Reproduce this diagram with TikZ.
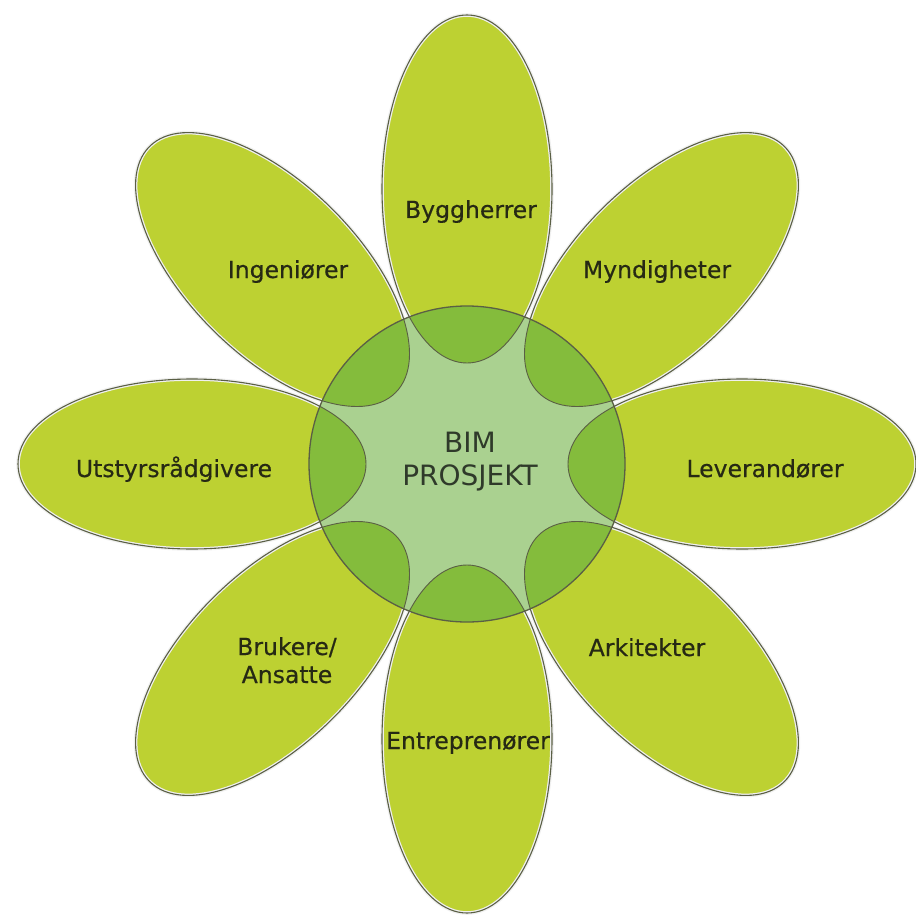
\documentclass[tikz,border=0pt]{standalone}
\usepackage{fontspec}
\setmainfont{DejaVu Sans}
\newfontfamily\petalfont[BoldFont={DejaVu Sans}, BoldFeatures={FakeBold=0.5}]{DejaVu Sans}
\definecolor{petal}{HTML}{BDD132}
\definecolor{hub}{HTML}{AAD190}
\definecolor{overlap}{HTML}{84BC3C}
\definecolor{edge}{HTML}{5A5F45}
\definecolor{ink}{HTML}{262914}
\definecolor{hubink}{HTML}{2F3A2A}
\tikzset{
  petalfill/.style={fill=petal},
  petalhalo/.style={draw=white!88!gray, line width=3.6pt},
  petaledge/.style={draw=edge, line width=1.1pt},
  label/.style={font=\petalfont\bfseries\fontsize{23.5}{28}\selectfont, text=ink, anchor=base, inner sep=0pt, align=center},
  hublabel/.style={font=\fontsize{28}{33}\selectfont, text=hubink, anchor=base, inner sep=0pt}
}
% one petal: an ellipse pointing outward from the hub at angle #1
\newcommand{\petalpath}[1]{(467,464) ++(#1:275) ellipse [x radius=174, y radius=85, rotate=-#1]}
\begin{document}
\begin{tikzpicture}[x=1pt, y=-1pt]
  \useasboundingbox[fill=white] (0,0) rectangle (915,917);
  % petals
  \foreach \a in {0,45,...,315} \path[petalfill] \petalpath{\a};
  \foreach \a in {0,45,...,315} \path[petalhalo] \petalpath{\a};
  \foreach \a in {0,45,...,315} \path[petaledge] \petalpath{\a};
  % centre disc
  \path[fill=hub] (467,464) circle (158);
  \begin{scope}
    \clip (467,464) circle (158);
    \foreach \a in {0,45,...,315} \path[fill=overlap] \petalpath{\a};
    \foreach \a in {0,45,...,315} \path[draw=edge, line width=0.9pt] \petalpath{\a};
  \end{scope}
  \draw[edge, line width=1.3pt] (467,464) circle (158);
  % labels
  \node[hublabel] (bim) at (470,452) {BIM};
  \node[hublabel] (prosjekt) at (470,485) {PROSJEKT};
  \node[label] (bygg) at (471,218) {Byggherrer};
  \node[label] (mynd) at (657,278) {Myndigheter};
  \node[label] (lev) at (765,477) {Leverandører};
  \node[label] (ark) at (647,656) {Arkitekter};
  \node[label] (entr) at (468,749) {Entreprenører};
  \node[label] (bruk) at (287,655) {Brukere/};
  \node[label] (ans) at (287,683) {Ansatte};
  \node[label] (utst) at (174,477) {Utstyrsrådgivere};
  \node[label] (ing) at (288,278) {Ingeniører};
\end{tikzpicture}
\end{document}
